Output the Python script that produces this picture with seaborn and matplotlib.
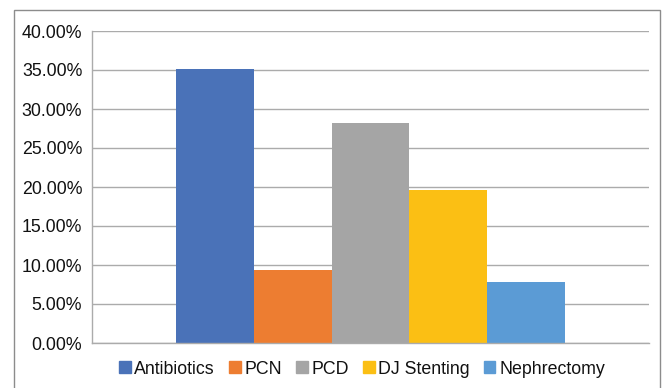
import pandas as pd
import seaborn as sns
import matplotlib.pyplot as plt
from matplotlib.patches import Rectangle
from matplotlib.ticker import FuncFormatter

# values
treatments = ['Antibiotics', 'PCN', 'PCD', 'DJ Stenting', 'Nephrectomy']
shares = [0.351, 0.094, 0.282, 0.196, 0.078]
colors = ['#4A72B8', '#ED7D31', '#A5A5A5', '#FBBF14', '#5B9BD5']
y_ticks = [0.0, 0.05, 0.10, 0.15, 0.20, 0.25, 0.30, 0.35, 0.40]

df = pd.DataFrame({'group': [''] * len(treatments), 'treatment': treatments, 'share': shares})

sns.set_style('white')
plt.rcParams['font.family'] = ['Liberation Sans', 'DejaVu Sans']

fig = plt.figure(figsize=(6.64, 3.88), dpi=100)
ax = fig.add_axes([92 / 664, 1 - 343 / 388, (649 - 92) / 664, (343 - 31) / 388])

sns.barplot(data=df, x='group', y='share', hue='treatment', hue_order=treatments,
            palette=colors, width=0.697, dodge=True, saturation=1, linewidth=0,
            ax=ax, legend=False)

ax.set_xlim(-0.5, 0.5)
ax.set_ylim(0, 0.40)
ax.set_yticks(y_ticks)
ax.yaxis.set_major_formatter(FuncFormatter(lambda v, _: f'{v:.2%}'))
ax.tick_params(axis='y', length=0, pad=7, labelsize=12.8, labelcolor='#111111')
ax.set_xticks([])
ax.set_xlabel('')
ax.set_ylabel('')
ax.grid(axis='y', color='#ababab', linewidth=1.0)
ax.set_axisbelow(True)
for side in ['top', 'right']:
    ax.spines[side].set_visible(False)
for side in ['left', 'bottom']:
    ax.spines[side].set_color('#ababab')
    ax.spines[side].set_linewidth(1.0)

# legend below the plot
handles = [Rectangle((0, 0), 1, 1, color=c) for c in colors]
fig.legend(handles, treatments, loc='center', bbox_to_anchor=(362 / 664, 1 - 369 / 388),
           ncol=5, frameon=False, fontsize=12.8, handlelength=0.65, handleheight=0.65,
           handletextpad=0.2, columnspacing=0.8, labelcolor='#111111')

# outer chart frame
fig.patches.append(Rectangle((14 / 664, -0.1), (660 - 14) / 664, 1.1 - 10 / 388,
                             transform=fig.transFigure, fill=False,
                             edgecolor='#8c8c8c', linewidth=1.0))

plt.savefig('out.png', dpi=100)
